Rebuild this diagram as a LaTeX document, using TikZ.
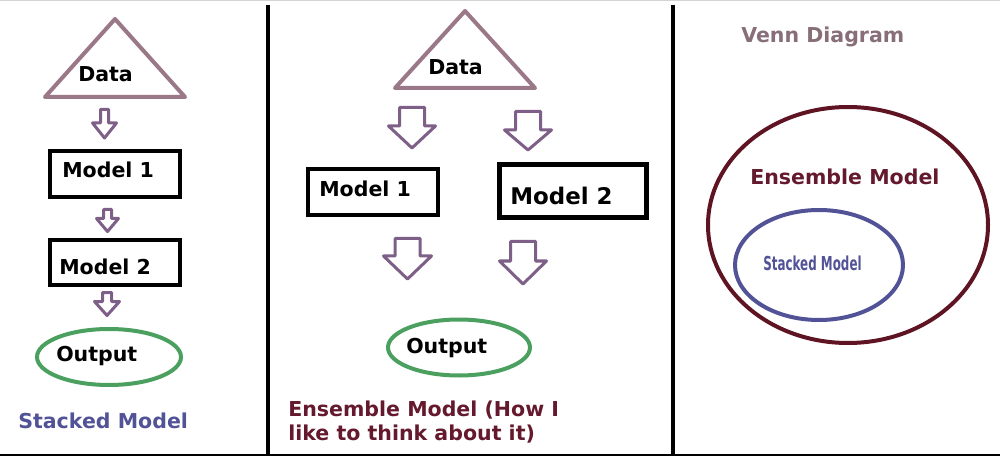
\documentclass[tikz,border=0pt]{standalone}
\usepackage{fontspec}
\setmainfont{DejaVu Sans}
\usepackage{graphicx}

\definecolor{mauve}{RGB}{155,120,135}
\definecolor{arrowpurple}{RGB}{125,95,135}
\definecolor{outgreen}{RGB}{75,160,95}
\definecolor{maroon}{RGB}{100,25,45}
\definecolor{ringmaroon}{RGB}{95,20,35}
\definecolor{stackblue}{RGB}{82,82,150}
\definecolor{venngrey}{RGB}{135,110,120}

\tikzset{
  blockarrow/.style={draw=arrowpurple, line width=2.25, line join=round},
  modelbox/.style={draw=black, line width=3},
  datatri/.style={draw=mauve, line width=3, line join=round},
  lbl/.style={anchor=base west, inner sep=0pt, font=\bfseries\fontsize{15.4}{18}\selectfont},
}

\begin{document}
\begin{tikzpicture}[x=0.75pt,y=0.75pt,yscale=-1,xscale=1]
\useasboundingbox (0,0) rectangle (1000,456);

% Frame
\draw [color={rgb, 255:red, 215; green, 210; blue, 215 }, line width=0.75] (0,0.5) -- (1000,0.5) ;
\draw [line width=1.2] (0,455.2) -- (1000,455.2) ;
\draw [line width=3] (268,5) -- (268,456) ;
\draw [line width=3] (673,5) -- (673,456) ;

%%% Stacked model (left)
% Triangle
\draw [datatri] (115,19) -- (185,97) -- (45,97) -- cycle ;
\node [lbl] (sdata) at (78,82) {Data};
% Down Arrow
\draw [blockarrow] (100.5,109.5) -- (108.5,109.5) -- (108.5,123) -- (116.5,123) -- (104.5,138) -- (92.5,123) -- (100.5,123) -- cycle ;
% Shape: Rectangle
\draw [modelbox] (50,151) rectangle (180,197) ;
\node [lbl] (smodela) at (62,178) {Model 1};
% Down Arrow
\draw [blockarrow] (103.5,209.5) -- (111.5,209.5) -- (111.5,218.5) -- (118.5,218.5) -- (107.5,231.5) -- (96.5,218.5) -- (103.5,218.5) -- cycle ;
% Shape: Rectangle
\draw [modelbox] (50,240) rectangle (180,285) ;
\node [lbl] (smodelb) at (59,275) {Model 2};
% Down Arrow
\draw [blockarrow] (102.5,292.5) -- (111.5,292.5) -- (111.5,301.5) -- (119.5,301.5) -- (107,315.5) -- (94.5,301.5) -- (102.5,301.5) -- cycle ;
% Shape: Ellipse
\draw [color=outgreen, line width=3] (109,357) ellipse [x radius=72, y radius=28] ;
\node [lbl] (sout) at (56,361.5) {Output};
% Text Node
\node [lbl, text=stackblue] (stitle) at (18,428) {Stacked Model};

%%% Ensemble model (middle)
% Triangle
\draw [datatri] (465,11) -- (535,88) -- (395,88) -- cycle ;
\node [lbl] (edata) at (428,75) {Data};
% Down Arrow
\draw [blockarrow] (399.5,107.5) -- (424.5,107.5) -- (424.5,126) -- (435.5,126) -- (412,148) -- (388.5,126) -- (399.5,126) -- cycle ;
% Down Arrow
\draw [blockarrow] (515.5,111.5) -- (540.5,111.5) -- (540.5,130) -- (551.5,130) -- (528,150) -- (504.5,130) -- (515.5,130) -- cycle ;
% Shape: Rectangle
\draw [modelbox] (308,169) rectangle (438,215) ;
\node [lbl] (emodela) at (319,197) {Model 1};
% Shape: Rectangle
\draw [modelbox, line width=3.6] (499.5,164.5) rectangle (646.5,217.5) ;
\node [lbl, font=\bfseries\fontsize{17.2}{20}\selectfont] (emodelb) at (510,205) {Model 2};
% Down Arrow
\draw [blockarrow] (395,238.5) -- (420,238.5) -- (420,256) -- (431.5,256) -- (407.5,279) -- (383.5,256) -- (395,256) -- cycle ;
% Down Arrow
\draw [blockarrow] (510.5,241.5) -- (535.5,241.5) -- (535.5,261) -- (546.5,261) -- (523,284) -- (499.5,261) -- (510.5,261) -- cycle ;
% Shape: Ellipse
\draw [color=outgreen, line width=3] (459,347.5) ellipse [x radius=71, y radius=28] ;
\node [lbl] (eout) at (406,353) {Output};
% Text Node
\node [lbl, text=maroon, align=left] (etitle) at (288,440) {Ensemble Model (How I\\like to think about it)};

%%% Venn diagram (right)
\node [lbl, text=venngrey] (vtitle) at (741,43) {Venn Diagram};
% Shape: Ellipse
\draw [color=ringmaroon, line width=3] (848,225) ellipse [x radius=140, y radius=118] ;
\node [lbl, text=maroon] (vens) at (750,185) {Ensemble Model};
% Shape: Ellipse
\draw [color=stackblue, line width=3] (819,265) ellipse [x radius=84, y radius=55] ;
\node [lbl, text=stackblue, font=\bfseries\fontsize{14.4}{16}\selectfont] (vstack) at (763,271) {\scalebox{0.62}[1]{Stacked Model}};

\end{tikzpicture}
\end{document}
